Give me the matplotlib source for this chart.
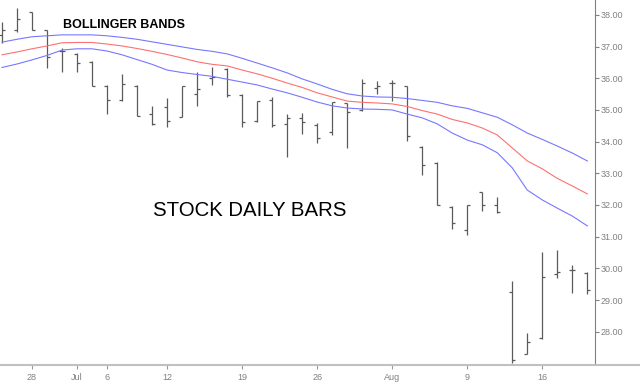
import matplotlib
matplotlib.use("Agg")
import matplotlib.pyplot as plt
import numpy as np
import pandas as pd

plt.rcParams['font.family'] = ['Liberation Sans', 'DejaVu Sans']

# trading days, Jul 5 was a holiday
dates = pd.bdate_range("2010-06-24", "2010-08-19").drop(pd.Timestamp("2010-07-05"))

opens = [37.35, 37.53, 38.09, 37.53, 36.86, 36.76, 36.51, 35.74, 35.32, 35.76,
         34.86, 35.10, 34.79, 35.51, 36.00, 36.29, 35.47, 34.66, 35.32, 34.56,
         34.76, 34.53, 34.30, 35.21, 35.00, 35.69, 35.84, 35.74, 33.82, 33.34,
         31.95, 31.21, 32.40, 32.00, 29.24, 27.29, 27.79, 29.81, 29.95, 29.84]
highs = [37.79, 38.21, 38.10, 37.53, 36.95, 36.81, 36.53, 35.79, 36.14, 35.79,
         35.13, 35.37, 35.77, 36.19, 36.37, 36.32, 35.49, 35.29, 35.40, 34.87,
         34.90, 34.58, 35.26, 35.23, 35.98, 35.92, 35.93, 35.76, 33.86, 33.37,
         31.97, 32.00, 32.42, 32.24, 29.60, 27.95, 30.51, 30.58, 30.10, 29.87]
lows = [37.11, 37.47, 37.53, 36.32, 36.19, 36.21, 35.74, 34.86, 35.28, 34.82,
        34.53, 34.45, 34.77, 35.14, 35.79, 35.40, 34.45, 34.63, 34.47, 33.53,
        34.23, 33.95, 34.21, 33.81, 34.98, 35.50, 35.29, 34.02, 32.95, 32.00,
        31.23, 31.05, 31.82, 31.74, 27.00, 27.29, 27.76, 29.69, 29.21, 29.18]
closes = [37.53, 37.87, 37.53, 36.66, 36.86, 36.49, 35.74, 35.32, 35.81, 34.82,
          34.56, 34.66, 35.74, 35.66, 36.03, 35.47, 34.63, 35.29, 34.51, 34.74,
          34.61, 34.13, 35.24, 34.93, 35.84, 35.77, 35.86, 34.18, 33.26, 32.00,
          31.42, 32.00, 32.00, 31.79, 27.11, 27.69, 29.74, 29.89, 29.95, 29.32]

upper = [37.14, 37.23, 37.31, 37.34, 37.37, 37.37, 37.37, 37.34, 37.29, 37.23,
         37.15, 37.07, 36.99, 36.91, 36.85, 36.77, 36.63, 36.48, 36.33, 36.17,
         35.98, 35.82, 35.65, 35.51, 35.44, 35.41, 35.40, 35.36, 35.30, 35.24,
         35.13, 35.05, 34.91, 34.77, 34.53, 34.27, 34.07, 33.86, 33.64, 33.39]
middle = [36.74, 36.83, 36.93, 37.02, 37.12, 37.13, 37.13, 37.08, 37.02, 36.94,
          36.85, 36.75, 36.64, 36.52, 36.44, 36.39, 36.26, 36.14, 36.00, 35.85,
          35.71, 35.54, 35.41, 35.28, 35.24, 35.22, 35.19, 35.11, 34.98, 34.87,
          34.70, 34.59, 34.43, 34.21, 33.80, 33.39, 33.14, 32.84, 32.60, 32.35]
lower = [36.34, 36.45, 36.58, 36.72, 36.89, 36.93, 36.93, 36.86, 36.74, 36.59,
         36.44, 36.26, 36.18, 36.12, 36.06, 35.97, 35.88, 35.79, 35.66, 35.54,
         35.40, 35.25, 35.13, 35.06, 35.03, 35.02, 35.00, 34.87, 34.75, 34.56,
         34.27, 34.05, 33.90, 33.65, 33.17, 32.47, 32.16, 31.90, 31.65, 31.34]

price_ticks = [28, 29, 30, 31, 32, 33, 34, 35, 36, 37, 38]

# x ticks: first trading day of a week (day number) or of a month (month name)
tick_pos = []
tick_lab = []
for j in range(1, len(dates)):
    d, prev = dates[j], dates[j - 1]
    if d.month != prev.month:
        tick_pos.append(j)
        tick_lab.append(d.strftime("%b"))
    elif d.isocalendar()[1] != prev.isocalendar()[1]:
        tick_pos.append(j)
        tick_lab.append(str(d.day))

fig = plt.figure(figsize=(6.4, 3.91), dpi=100)
ax = fig.add_axes([0, 26 / 391, 595 / 640, 365 / 391])

x = np.arange(len(dates))
barcol = '#5a5a5a'
ax.vlines(x, lows, highs, color=barcol, lw=0.9)
ax.hlines(opens, x - 0.2, x, color=barcol, lw=0.9)
ax.hlines(closes, x, x + 0.2, color=barcol, lw=0.9)

ax.plot(x, upper, color='#7777ff', lw=0.8)
ax.plot(x, middle, color='#ff7070', lw=0.8)
ax.plot(x, lower, color='#7777ff', lw=0.8)

ax.set_xlim(-0.13, 39.51)
ax.set_ylim(26.95, 38.47)

ax.yaxis.tick_right()
ax.set_yticks(price_ticks)
ax.set_yticklabels(["%.2f" % p for p in price_ticks])
ax.set_xticks(tick_pos)
ax.set_xticklabels(tick_lab)
ax.tick_params(axis='y', length=3, width=0.8, color='#808080', labelcolor='#808080',
               labelsize=6.5, pad=1)
ax.tick_params(axis='x', length=3, width=0.8, color='#999999', labelcolor='#808080',
               labelsize=6.5, pad=3)

for s in ['left', 'top', 'bottom']:
    ax.spines[s].set_visible(False)
ax.spines['right'].set_color('#808080')
ax.spines['right'].set_linewidth(0.8)

# bottom rule runs across the whole picture
fig.add_artist(plt.Line2D([0, 1], [26 / 391, 26 / 391], color='#c0c0c0', lw=1.5))

fig.text(63 / 640, 1 - 25 / 391, "BOLLINGER BANDS", fontsize=9, fontweight='bold',
         ha='left', va='center', color='black')
fig.text(250 / 640, 1 - 211 / 391, "STOCK DAILY BARS", fontsize=14.7,
         ha='center', va='center', color='black')

fig.savefig("out.png", dpi=100)
